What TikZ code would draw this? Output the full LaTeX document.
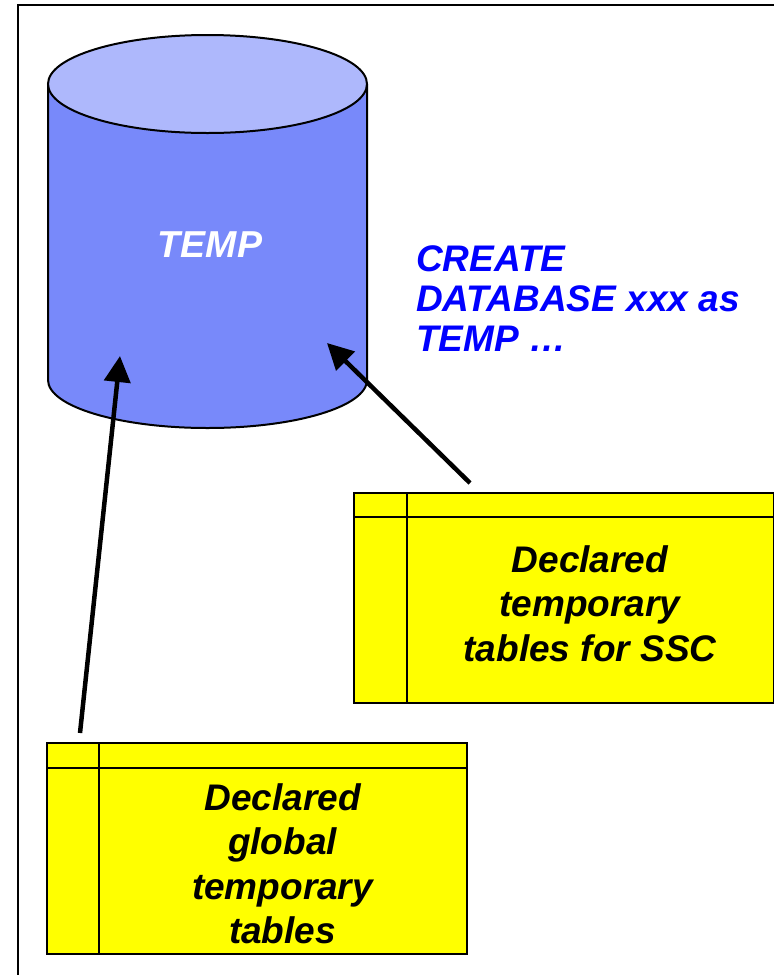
\documentclass[tikz,border=0pt]{standalone}
\usepackage{fontspec}
\setmainfont{Liberation Sans}
\usetikzlibrary{arrows.meta}
\definecolor{cylside}{RGB}{120,137,250}
\definecolor{cyltop}{RGB}{174,184,252}
\definecolor{sqlblue}{RGB}{0,0,255}
\definecolor{tblyellow}{RGB}{255,255,0}
\tikzset{
  tablebox/.style={draw, line width=2pt, fill=tblyellow, anchor=north west, inner sep=0pt},
  tabletext/.style={font=\fontsize{37}{44.5}\selectfont\bfseries\itshape, align=center, anchor=north, inner sep=0pt},
  bigarrow/.style={line width=4.5pt, -{Triangle[length=26pt,width=26pt]}}
}
\begin{document}
\begin{tikzpicture}[x=1pt,y=-1pt]
  \useasboundingbox (0,0) rectangle (774,975);
  \draw[line width=2pt] (17.5,990) -- (17.5,5) -- (790,5);
  % database cylinder
  \fill[cylside] (48,84) -- (48,380) arc[start angle=180,end angle=0,x radius=159.5,y radius=48] -- (367,84) -- cycle;
  \draw[line width=2pt] (48,84) -- (48,380) arc[start angle=180,end angle=0,x radius=159.5,y radius=48] -- (367,84);
  \draw[line width=2pt, fill=cyltop] (207.5,84) ellipse[x radius=159.5, y radius=49];
  \node[font=\fontsize{37.5}{40}\selectfont\bfseries\itshape, text=white] (temp) at (210,245) {TEMP};
  \node[font=\fontsize{37}{40}\selectfont\bfseries\itshape, text=sqlblue, align=left, anchor=north west, inner sep=0pt] (create) at (416,245) {CREATE\\DATABASE xxx as\\TEMP …};
  % tables
  \node[tablebox, minimum width=420pt, minimum height=210pt] (ssc) at (353,492) {};
  \draw[line width=2pt] ([xshift=54pt]ssc.north west) -- ([xshift=54pt]ssc.south west);
  \draw[line width=2pt] ([yshift=-25pt]ssc.north west) -- ([yshift=-25pt]ssc.north east);
  \node[tabletext] (ssctext) at (590,545) {Declared\\temporary\\tables for SSC};
  \node[tablebox, minimum width=420pt, minimum height=211pt] (glob) at (46,742) {};
  \draw[line width=2pt] ([xshift=53pt]glob.north west) -- ([xshift=53pt]glob.south west);
  \draw[line width=2pt] ([yshift=-26pt]glob.north west) -- ([yshift=-26pt]glob.north east);
  \node[tabletext] (globtext) at (282.5,783) {Declared\\global\\temporary\\tables};
  % arrows into TEMP
  \coordinate (globtip) at (120,356);
  \coordinate (ssctip) at (327,343);
  \draw[bigarrow] ([xshift=34pt,yshift=9pt]glob.north west) -- (globtip);
  \draw[bigarrow] ([xshift=117pt,yshift=9pt]ssc.north west) -- (ssctip);
\end{tikzpicture}
\end{document}
